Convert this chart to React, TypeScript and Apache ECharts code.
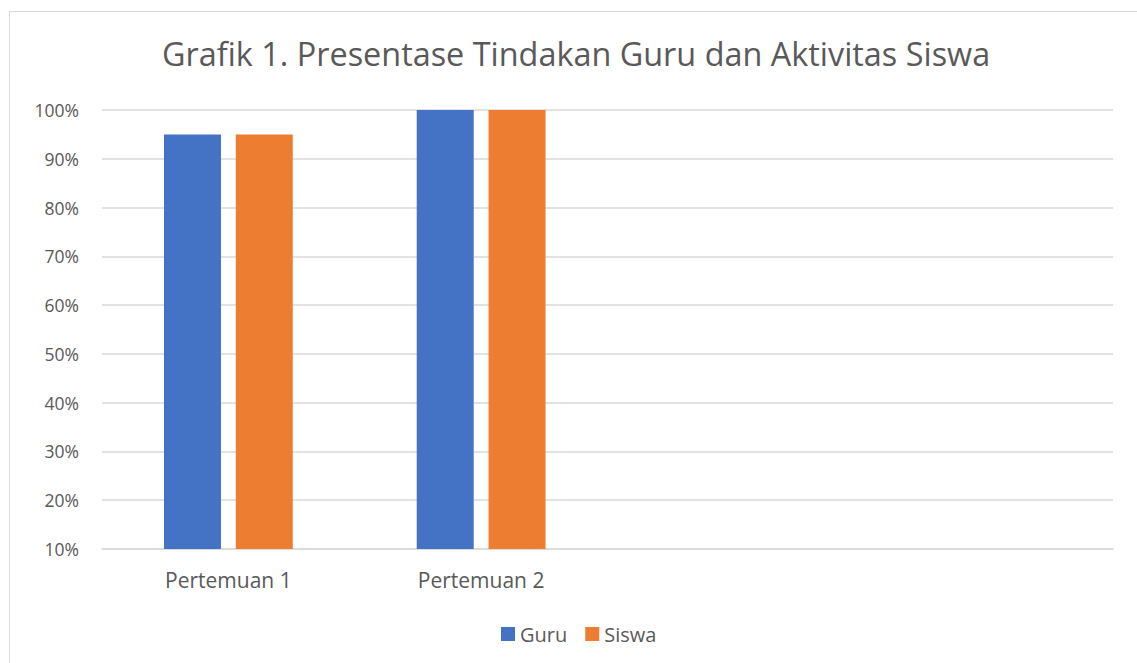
import React, { useEffect, useRef } from "react";
import * as echarts from "echarts";

const categories = ["Pertemuan 1", "Pertemuan 2", "", ""];
const guruValues = [95, 100, null, null];
const siswaValues = [95, 100, null, null];
const seriesNames = ["Guru", "Siswa"];
const titleText = "Grafik 1. Presentase Tindakan Guru dan Aktivitas Siswa";

export default function App() {
  const ref = useRef<HTMLDivElement>(null);
  useEffect(() => {
    if (!ref.current) return;
    const chart = echarts.init(ref.current, null, { renderer: "svg" });
    const font = "Open Sans";
    chart.setOption({
      animation: false,
      backgroundColor: "#ffffff",
      graphic: [
        {
          type: "rect",
          shape: { x: 9.5, y: 11.5, width: 1140, height: 680 },
          style: { fill: "none", stroke: "#d9d9d9", lineWidth: 1 },
          silent: true,
        },
      ],
      title: {
        text: titleText,
        left: 162,
        top: 37,
        padding: 0,
        textStyle: { fontFamily: font, fontSize: 32.4, fontWeight: "normal", color: "#595959" },
      },
      legend: {
        data: seriesNames,
        bottom: 14,
        left: 496,
        itemWidth: 14,
        itemHeight: 14,
        itemGap: 18,
        icon: "rect",
        textStyle: { fontFamily: font, fontSize: 20, color: "#595959" },
      },
      grid: { left: 102, right: 24, top: 110, bottom: 114, containLabel: false },
      xAxis: {
        type: "category",
        data: categories,
        axisLine: { lineStyle: { color: "#d9d9d9", width: 1.5 } },
        axisTick: { show: false },
        axisLabel: { fontFamily: font, fontSize: 21, color: "#595959", margin: 20 },
      },
      yAxis: {
        type: "value",
        min: 10,
        max: 100,
        interval: 10,
        axisLine: { show: false },
        axisTick: { show: false },
        splitLine: { lineStyle: { color: "#d9d9d9", width: 1.5 } },
        axisLabel: {
          fontFamily: font,
          fontSize: 17.5,
          color: "#595959",
          margin: 23,
          formatter: (v: number) => v + "%",
        },
      },
      series: [
        {
          name: seriesNames[0],
          type: "bar",
          data: guruValues,
          barWidth: 57,
          barGap: "26%",
          itemStyle: { color: "#4472c4" },
        },
        {
          name: seriesNames[1],
          type: "bar",
          data: siswaValues,
          barWidth: 57,
          itemStyle: { color: "#ed7d31" },
        },
      ],
    });
    return () => chart.dispose();
  }, []);
  return (
    <div
      ref={ref}
      style={{ position: "fixed", left: 0, top: 0, width: 1137, height: 663 }}
    />
  );
}
